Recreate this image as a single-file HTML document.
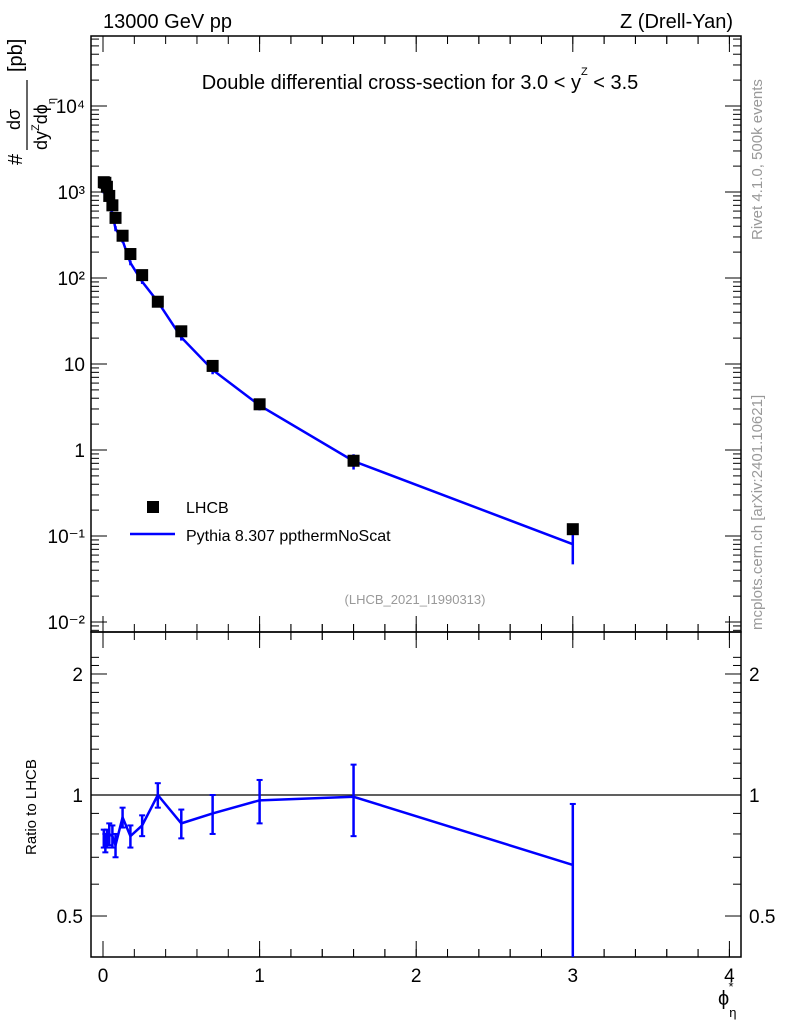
<!DOCTYPE html>
<html><head><meta charset="utf-8"><style>
body{margin:0;background:#fff}
svg{font-family:"Liberation Sans",sans-serif}
</style></head><body>
<svg id="c" width="786" height="1024" xmlns="http://www.w3.org/2000/svg">
<g id="g"></g>
<text x="103" y="28" font-size="20">13000 GeV pp</text>
<text x="733" y="28" font-size="20" text-anchor="end">Z (Drell-Yan)</text>
<text x="420" y="89" font-size="20" text-anchor="middle">Double differential cross-section for 3.0 &lt; y<tspan font-size="11" dy="-14">Z</tspan><tspan dy="14"> &lt; 3.5</tspan></text>
<text x="415" y="604" font-size="13" fill="#999" text-anchor="middle">(LHCB_2021_I1990313)</text>
<text transform="translate(762,240) rotate(-90)" font-size="15" fill="#999">Rivet 4.1.0,  500k events</text>
<text transform="translate(762,630) rotate(-90)" font-size="15" fill="#999">mcplots.cern.ch [arXiv:2401.10621]</text>
<g>
<text transform="translate(22,165) rotate(-90)" font-size="20">#</text>
<text transform="translate(20,130) rotate(-90)" font-size="18">dσ</text>
<line x1="27" y1="150" x2="27" y2="80" stroke="#000" stroke-width="1.2"/>
<text transform="translate(47,150) rotate(-90)" font-size="18">dy<tspan font-size="11" dy="-8">Z</tspan><tspan dy="8">dϕ</tspan><tspan font-size="11" dy="8">η</tspan></text>
<text transform="translate(22,72) rotate(-90)" font-size="20">[pb]</text>
</g>
<text transform="translate(36,855) rotate(-90)" font-size="15">Ratio to LHCB</text>
<text x="718" y="1005" font-size="20">ϕ<tspan font-size="13" dy="12">η</tspan><tspan font-size="13" dx="-8" dy="-26">*</tspan></text>
<rect x="147" y="501" width="12" height="12" fill="#000"/>
<text x="186" y="513" font-size="16">LHCB</text>
<line x1="130" y1="534" x2="175" y2="534" stroke="#00f" stroke-width="2.5"/>
<text x="186" y="541" font-size="16">Pythia 8.307 ppthermNoScat</text>
</svg>
<script>
const xs=[0.005,0.015,0.025,0.04,0.06,0.08,0.125,0.175,0.25,0.35,0.5,0.7,1.0,1.6,3.0];
const dataVals=[1300,1280,1150,900,700,500,310,190,108,53,24,9.5,3.4,0.75,0.12];
const ratios=[0.78,0.76,0.78,0.80,0.79,0.75,0.88,0.79,0.84,1.0,0.85,0.90,0.97,0.99,0.67];
const ratioErr=[0.04,0.04,0.04,0.05,0.05,0.05,0.05,0.05,0.05,0.07,0.07,0.1,0.12,0.2,0.28];
const mainTickLabels=["10\u207B\u00B2","10\u207B\u00B9","1","10","10\u00B2","10\u00B3","10\u2074"];
const ratioTicks=[0.5,1,2];
const xTicks=[0,1,2,3,4];
const NS="http://www.w3.org/2000/svg",g=document.getElementById('g');
const L=91,R=741,T=36,B=632,RB=957;
const X=v=>103+v*156.6;
const Y=v=>450-86*Math.log10(v);
const YR=v=>795-402*Math.log10(v);
function el(t,a,p){const e=document.createElementNS(NS,t);for(const k in a)e.setAttribute(k,a[k]);(p||g).appendChild(e);return e;}
let f=el('rect',{x:L,y:T,width:R-L,height:B-T,fill:'none',stroke:'#000','stroke-width':1.5});


f=el('rect',{x:L,y:B,width:R-L,height:RB-B,fill:'none',stroke:'#000','stroke-width':1.5});


for(let d=-2;d<=4;d++){
 const y=Y(Math.pow(10,d));
 el('line',{x1:L,y1:y,x2:L+16,y2:y,stroke:'#000'});el('line',{x1:R,y1:y,x2:R-16,y2:y,stroke:'#000'});
 const t=el('text',{x:L-6,y:y+7,'font-size':19,'text-anchor':'end'});t.textContent=mainTickLabels[d+2];
 
 
 for(let m=2;m<10;m++){const yy=Y(m*Math.pow(10,d));if(yy<T)break;
  el('line',{x1:L,y1:yy,x2:L+8,y2:yy,stroke:'#000'});el('line',{x1:R,y1:yy,x2:R-8,y2:yy,stroke:'#000'});}
}
for(let m=2;m<10;m++){const yy=Y(m*0.001);if(yy<B){el('line',{x1:L,y1:yy,x2:L+8,y2:yy,stroke:'#000'});el('line',{x1:R,y1:yy,x2:R-8,y2:yy,stroke:'#000'});}}
xTicks.forEach(v=>{const x=X(v);
 [[B,B-16],[T,T+16],[RB,RB-16],[B,B+16]].forEach(p=>el('line',{x1:x,y1:p[0],x2:x,y2:p[1],stroke:'#000'}));
 const t=el('text',{x:x,y:RB+25,'font-size':19,'text-anchor':'middle'});t.textContent=v;
 
 
 for(let m=1;m<10;m++){const xx=X(v+m*0.2);if(xx>R)break;
  [[B,B-8],[T,T+8],[RB,RB-8],[B,B+8]].forEach(p=>el('line',{x1:xx,y1:p[0],x2:xx,y2:p[1],stroke:'#000'}));}
});
ratioTicks.forEach(v=>{const y=YR(v);
 el('line',{x1:L,y1:y,x2:L+16,y2:y,stroke:'#000'});el('line',{x1:R,y1:y,x2:R-16,y2:y,stroke:'#000'});
 const t=el('text',{x:L-8,y:y+7,'font-size':19,'text-anchor':'end'});t.textContent=v;
 
 
 const t2=el('text',{x:R+8,y:y+7,'font-size':19});t2.textContent=v;
 
 
});
[0.6,0.7,0.8,0.9,1.1,1.2,1.3,1.4,1.5,1.6,1.7,1.8,1.9,2.1,2.2].forEach(v=>{const y=YR(v);if(y>B&&y<RB){el('line',{x1:L,y1:y,x2:L+8,y2:y,stroke:'#000'});el('line',{x1:R,y1:y,x2:R-8,y2:y,stroke:'#000'});}});
el('line',{x1:L,y1:YR(1),x2:R,y2:YR(1),stroke:'#000','stroke-width':1.2});
const mc=xs.map((x,i)=>dataVals[i]*ratios[i]);
let p=el('polyline',{points:xs.map((x,i)=>X(x)+','+Y(mc[i])).join(' '),fill:'none',stroke:'#00f','stroke-width':2.5});


xs.forEach((x,i)=>{
 const hi=mc[i]*(ratios[i]+ratioErr[i])/ratios[i],lo=Math.max(mc[i]*(ratios[i]-ratioErr[i])/ratios[i],1e-3);
 const e=el('line',{x1:X(x),y1:Y(hi),x2:X(x),y2:Y(lo),stroke:'#00f','stroke-width':2.5});
 
 
 const s=el('rect',{x:X(x)-6,y:Y(dataVals[i])-6,width:12,height:12,fill:'#000'});
 
 
});
p=el('polyline',{points:xs.map((x,i)=>X(x)+','+YR(ratios[i])).join(' '),fill:'none',stroke:'#00f','stroke-width':2.5});


xs.forEach((x,i)=>{
 const y1=YR(ratios[i]+ratioErr[i]),y2=Math.min(YR(Math.max(ratios[i]-ratioErr[i],0.01)),RB);
 const e=el('line',{x1:X(x),y1:y1,x2:X(x),y2:y2,stroke:'#00f','stroke-width':2.5});
 
 
 el('line',{x1:X(x)-3,y1:y1,x2:X(x)+3,y2:y1,stroke:'#00f','stroke-width':2});
 if(y2<RB)el('line',{x1:X(x)-3,y1:y2,x2:X(x)+3,y2:y2,stroke:'#00f','stroke-width':2});
});
</script>
</body></html>
